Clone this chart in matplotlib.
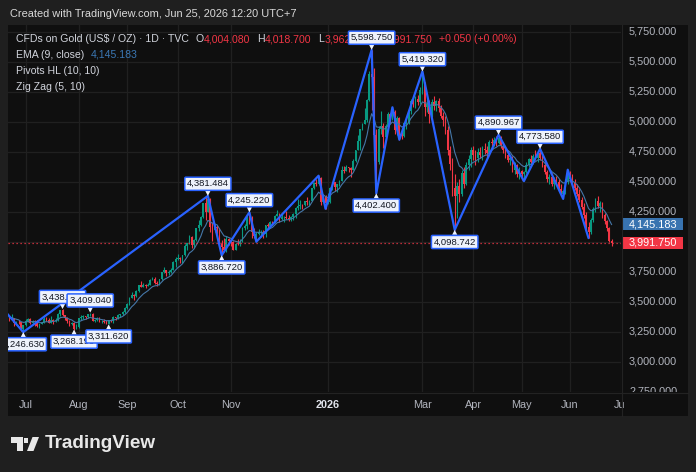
import numpy as np
import pandas as pd
import matplotlib
matplotlib.use('Agg')
import matplotlib.pyplot as plt
from matplotlib.patches import Rectangle, Polygon

# ---------------- data ----------------
start_date = '2025-06-20'
end_date = '2026-06-25'
holidays = ['2025-12-25', '2026-01-01', '2026-04-03']
first_open = 3369.0

closes = [3368, 3368, 3323, 3333, 3328, 3274, 3303,
          3338, 3357, 3326, 3337, 3336, 3301, 3313, 3325, 3355, 3344, 3324, 3347, 3339, 3350,
          3397, 3432, 3387, 3368, 3337, 3314, 3326, 3275, 3290,
          3363, 3373, 3381, 3370, 3397, 3398, 3342, 3348, 3356, 3335, 3336, 3332, 3316, 3348,
          3339, 3371, 3365, 3393, 3397, 3416, 3448,
          3477, 3533, 3559, 3545, 3587, 3636, 3626, 3640, 3634, 3643, 3680, 3690, 3659, 3644,
          3685, 3746, 3763, 3736, 3749, 3760, 3833, 3858,
          3865, 3856, 3886, 3960, 3985, 4040, 3975, 4018, 4110, 4142, 4208, 4326, 4251, 4356,
          4125, 4095, 4126, 4112, 3982, 3953, 3930, 4025, 4002,
          4000, 3932, 3980, 3977, 4000, 4116, 4128, 4195, 4171, 4080, 4045, 4067, 4077, 4078,
          4065, 4136, 4131, 4164, 4157, 4218,
          4232, 4186, 4204, 4208, 4197, 4188, 4208, 4228, 4280, 4300, 4305, 4303, 4338, 4332,
          4340, 4445, 4490, 4480, 4533, 4331, 4370, 4319,
          4330, 4448, 4495, 4456, 4477, 4509, 4597, 4588, 4625, 4615, 4596, 4670, 4765, 4835,
          4936, 4983, 5010, 5180, 5400, 5370, 4890,
          4660, 4940, 4960, 4870, 4960, 5060, 5025, 5080, 4930, 5030, 4900, 4880, 4985, 4990,
          5090, 5170, 5150, 5190, 5160, 5260,
          5310, 5120, 5150, 5060, 5160, 5130, 5170, 5110, 5050, 5010, 4930, 4760, 4650, 4450,
          4380, 4460, 4400, 4570, 4480, 4640, 4690, 4760,
          4720, 4700, 4750, 4720, 4770, 4760, 4740, 4830, 4820, 4850, 4820, 4860, 4800, 4760,
          4720, 4680, 4700, 4600, 4640, 4560, 4590,
          4560, 4580, 4640, 4690, 4660, 4710, 4700, 4740, 4700, 4640, 4580, 4520, 4540, 4480,
          4510, 4500, 4440, 4400, 4420, 4500, 4560,
          4520, 4490, 4450, 4400, 4350, 4290, 4220, 4120, 4080, 4180, 4270, 4340, 4300, 4320,
          4220, 4170, 4110, 4004.08, 3991.75]

highs = [3373, 3398, 3368, 3340, 3350, 3329, 3306,
         3358, 3365, 3366, 3345, 3345, 3347, 3318, 3330, 3369, 3375, 3366, 3377, 3352, 3361,
         3402, 3433, 3438.87, 3393, 3373, 3345, 3334, 3334, 3315,
         3363, 3385, 3391, 3384, 3400, 3409.04, 3404, 3358, 3375, 3374, 3345, 3358, 3345, 3350,
         3352, 3378, 3376, 3394, 3398, 3423, 3454,
         3489, 3540, 3578, 3564, 3600, 3641, 3674, 3657, 3646, 3655, 3685, 3703, 3707, 3669,
         3687, 3749, 3791, 3768, 3762, 3782, 3835, 3872,
         3895, 3876, 3890, 3977, 3991, 4059, 4045, 4022, 4117, 4179, 4218, 4326, 4379, 4381.484,
         4363, 4161, 4147, 4142, 4110, 4010, 4030, 4045, 4034,
         4030, 4002, 3990, 4020, 4020, 4124, 4148, 4210, 4245.22, 4210, 4110, 4082, 4109, 4100,
         4098, 4138, 4156, 4170, 4175, 4220,
         4264, 4240, 4240, 4218, 4259, 4220, 4218, 4238, 4285, 4353, 4350, 4310, 4342, 4374,
         4350, 4448, 4497, 4526, 4550, 4540, 4390, 4385,
         4402, 4452, 4500, 4500, 4480, 4516, 4630, 4634, 4643, 4626, 4625, 4690, 4766, 4888,
         4940, 4990, 5110, 5190, 5420, 5598.75, 5450,
         4940, 4960, 5090, 4990, 4980, 5080, 5070, 5120, 5100, 5050, 5040, 4920, 5000, 5020,
         5100, 5190, 5200, 5210, 5220, 5290,
         5419.32, 5330, 5200, 5180, 5190, 5210, 5180, 5200, 5140, 5080, 5050, 4960, 4800, 4700,
         4560, 4500, 4520, 4600, 4620, 4660, 4720, 4790,
         4800, 4760, 4780, 4790, 4800, 4820, 4800, 4850, 4860, 4870, 4880, 4890.967, 4880, 4830,
         4790, 4760, 4720, 4710, 4660, 4650, 4620,
         4600, 4590, 4660, 4700, 4720, 4730, 4760, 4750, 4773.58, 4720, 4660, 4600, 4560, 4570,
         4540, 4550, 4520, 4480, 4430, 4520, 4600,
         4590, 4560, 4520, 4480, 4440, 4370, 4320, 4250, 4160, 4200, 4290, 4360, 4380, 4340,
         4330, 4240, 4180, 4120, 4018.7]

lows = [3340, 3347, 3295, 3312, 3317, 3255, 3246.63,
        3296, 3329, 3311, 3323, 3297, 3287, 3283, 3310, 3322, 3341, 3320, 3319, 3310, 3332,
        3340, 3383, 3381, 3351, 3325, 3301, 3308, 3268.19, 3282,
        3281, 3346, 3354, 3356, 3367, 3378, 3342, 3331, 3343, 3330, 3324, 3323, 3315, 3311.62,
        3330, 3321, 3351, 3352, 3371, 3386, 3408,
        3436, 3475, 3528, 3511, 3543, 3578, 3621, 3623, 3613, 3633, 3635, 3677, 3645, 3627,
        3640, 3683, 3735, 3717, 3722, 3741, 3760, 3792,
        3850, 3820, 3823, 3884, 3930, 3980, 3945, 3947, 4006, 4090, 4134, 4199, 4183, 4250,
        4082, 4004, 4078, 4060, 3970, 3886.72, 3918, 3917, 3970,
        3960, 3929, 3930, 3970, 3960, 3995, 4099, 4105, 4150, 4032, 4030, 4000, 4058, 4040,
        4032, 4040, 4110, 4125, 4141, 4153,
        4218, 4164, 4180, 4162, 4190, 4170, 4170, 4180, 4197, 4266, 4270, 4271, 4298, 4308,
        4309, 4338, 4436, 4464, 4475, 4302, 4320, 4274,
        4310, 4325, 4430, 4422, 4410, 4467, 4510, 4570, 4585, 4580, 4537, 4600, 4660, 4760,
        4760, 4930, 4990, 5000, 5170, 5100, 4680,
        4402.4, 4650, 4900, 4780, 4850, 4940, 4990, 5010, 4900, 4890, 4850, 4855, 4870, 4940,
        4980, 5060, 5120, 5110, 5140, 5150,
        5230, 5050, 5080, 4990, 5040, 5100, 5090, 5080, 5030, 4960, 4900, 4720, 4600, 4380,
        4098.742, 4200, 4330, 4380, 4450, 4470, 4600, 4620,
        4680, 4640, 4660, 4700, 4680, 4730, 4700, 4730, 4790, 4800, 4800, 4810, 4780, 4740,
        4700, 4660, 4640, 4580, 4560, 4540, 4520,
        4510, 4505, 4570, 4620, 4640, 4650, 4680, 4660, 4680, 4620, 4560, 4500, 4480, 4460,
        4440, 4470, 4420, 4380, 4357, 4400, 4480,
        4500, 4470, 4430, 4380, 4330, 4270, 4200, 4100, 4030, 4060, 4160, 4250, 4280, 4250,
        4200, 4150, 4090, 4000, 3962.42]

# zig zag pivots (bar index, price)
zz_idx = [-1, 6, 86, 92, 104, 107, 134, 137, 157, 159, 166, 169, 179, 193, 212, 223, 230, 240, 242, 251]
zz_price = [3400, 3246.63, 4381.484, 3886.72, 4245.22, 4000, 4550, 4274, 5598.75, 4402.4,
            5120, 4850, 5419.32, 4098.742, 4890.967, 4505, 4773.58, 4357, 4600, 4030]

# pivot HL labels (bar index, price, side)
piv_idx = [6, 23, 28, 35, 43, 86, 92, 104, 157, 159, 179, 193, 212, 230]
piv_price = [3246.63, 3438.87, 3268.19, 3409.04, 3311.62, 4381.484, 3886.72, 4245.22,
             5598.75, 4402.4, 5419.32, 4098.742, 4890.967, 4773.58]
piv_side = ['L', 'H', 'L', 'H', 'L', 'H', 'L', 'H', 'H', 'L', 'H', 'L', 'H', 'H']

price_ticks = [5750, 5500, 5250, 5000, 4750, 4500, 4250, 4000, 3750, 3500, 3250, 3000, 2750]
tick_months = ['2025-07', '2025-08', '2025-09', '2025-10', '2025-11', '2026-01',
               '2026-03', '2026-04', '2026-05', '2026-06', '2026-07']
tick_labels = ['Jul', 'Aug', 'Sep', 'Oct', 'Nov', '2026', 'Mar', 'Apr', 'May', 'Jun', 'Jul']

last_price = 3991.75
ema_value = 4145.183

# ---------------- style ----------------
plt.rcParams['font.family'] = ['Liberation Sans', 'DejaVu Sans']
W, H = 696, 472
BG = '#1f1f1f'
PANEL = '#0f0f0f'
GRID = '#202020'
TXT = '#d1d4dc'
AX_TXT = '#b2b5be'
UP = '#089981'
DN = '#f23645'
ZZ = '#2962ff'
EMA_C = '#3b78b5'
FS = 7.6

fig = plt.figure(figsize=(W / 100, H / 100), dpi=100)
fig.patch.set_facecolor(BG)


def fbox(x0, y0, x1, y1):
    return [x0 / W, 1 - y1 / H, (x1 - x0) / W, (y1 - y0) / H]


def bar_at(px):
    return (px - 9.46) / 2.307


fig.add_artist(Rectangle((8 / W, 1 - 416 / H), 680 / W, 391 / H, transform=fig.transFigure,
                         fc=PANEL, ec='none', zorder=0))

# calendar
all_days = pd.bdate_range(start_date, '2026-07-03')
all_days = all_days[~all_days.isin(pd.to_datetime(holidays))]
n = len(closes)
month_key = all_days.strftime('%Y-%m')
tick_pos = [int(np.argmax(month_key == m)) for m in tick_months]

closes = np.array(closes, float)
highs = np.array(highs, float)
lows = np.array(lows, float)
opens = np.r_[first_open, closes[:-1]]
highs = np.maximum(highs, np.maximum(opens, closes))
lows = np.minimum(lows, np.minimum(opens, closes))
idx = np.arange(n)

# main pane
ylo, yhi = 2747.5, 5805.8
ax = fig.add_axes(fbox(8, 25, 621, 392))
ax.set_xlim(bar_at(8), bar_at(621))
ax.set_ylim(ylo, yhi)
ax.axis('off')

for p in price_ticks:
    ax.axhline(p, color=GRID, lw=0.9, zorder=1)
for t in tick_pos:
    ax.axvline(t, color=GRID, lw=0.9, zorder=1)

up = closes >= opens
cols = np.where(up, UP, DN)
ax.vlines(idx, lows, highs, colors=cols, lw=0.8, zorder=3)
body = np.maximum(np.abs(closes - opens), 4)
ax.bar(idx, body, bottom=np.minimum(opens, closes), width=0.74, color=cols, lw=0, zorder=3)

ema = pd.Series(closes).ewm(span=9, adjust=False).mean().values
ax.plot(idx, ema, color='#4577a8', lw=0.8, zorder=4)

ax.plot(zz_idx, zz_price, color=ZZ, lw=1.6, zorder=5, solid_capstyle='round')

ax.axhline(last_price, color=DN, lw=0.9, ls=(0, (1, 2.2)), zorder=4)

# header legend
def chain(prev, s, color, gap=0):
    return ax.annotate(s, xy=(1, 0), xycoords=prev, xytext=(gap, 0), textcoords='offset points',
                       va='bottom', ha='left', color=color, fontsize=FS, annotation_clip=False,
                       zorder=6)

t0 = ax.text(16 / W, 1 - 39 / H, 'CFDs on Gold (US$ / OZ) \u00b7 1D \u00b7 TVC', transform=fig.transFigure,
             va='center', ha='left', color=TXT, fontsize=FS, zorder=6)
segs = [('O', TXT, 5), ('4,004.080', DN, 0), ('H', TXT, 5), ('4,018.700', DN, 0),
        ('L', TXT, 5), ('3,962.420', DN, 0), ('C', TXT, 5), ('3,991.750', DN, 0),
        ('+0.050 (+0.00%)', DN, 5)]
prev = t0
for s, c, g in segs:
    prev = chain(prev, s, c, g)

t1 = ax.text(16 / W, 1 - 54.5 / H, 'EMA (9, close)', transform=fig.transFigure, va='center',
             ha='left', color=TXT, fontsize=FS, zorder=6)
chain(t1, f'{ema_value:,.3f}', EMA_C, 5)
ax.text(16 / W, 1 - 70.5 / H, 'Pivots HL (10, 10)', transform=fig.transFigure, va='center',
        ha='left', color=TXT, fontsize=FS, zorder=6)
ax.text(16 / W, 1 - 86.5 / H, 'Zig Zag (5, 10)', transform=fig.transFigure, va='center',
        ha='left', color=TXT, fontsize=FS, zorder=6)

# pivot labels
for k, (i, p, s) in enumerate(zip(piv_idx, piv_price, piv_side)):
    off = 5.5 if s == 'H' else -5.5
    ax.annotate(f'{p:,.3f}', xy=(i, p), xytext=(0, off), textcoords='offset points',
                ha='center', va='bottom' if s == 'H' else 'top', fontsize=6.8, color='#131722',
                bbox=dict(boxstyle='round,pad=0.22,rounding_size=0.12', fc='#eef2fb', ec=ZZ, lw=1.1),
                arrowprops=dict(arrowstyle='wedge,tail_width=0.55,shrink_factor=0.5', fc='#eef2fb',
                                ec='none', shrinkA=0, shrinkB=0),
                zorder=10 + k, annotation_clip=False, clip_on=True)

# price scale
pax = fig.add_axes(fbox(621, 25, 688, 392))
pax.set_xlim(0, 1)
pax.set_ylim(ylo, yhi)
pax.axis('off')
for p in price_ticks:
    pax.text(0.12, p, f'{p:,.3f}', va='center', ha='left', color=AX_TXT, fontsize=7.8, clip_on=True)

for p, fc in [(ema_value, '#3873b0'), (last_price, DN)]:
    pax.add_patch(Rectangle((0.025, p - 49), 0.895, 98, fc=fc, ec='none', zorder=5))
    pax.text(0.12, p, f'{p:,.3f}', va='center', ha='left', color='white', fontsize=7.8, zorder=6)

# time scale
tax = fig.add_axes(fbox(8, 392, 625, 416))
tax.set_xlim(bar_at(8), bar_at(625))
tax.set_ylim(0, 1)
tax.axis('off')
for t, lab in zip(tick_pos, tick_labels):
    bold = lab.isdigit()
    tax.text(t, 0.46, lab, ha='center', va='center', fontsize=7.8,
             color='#e0e3eb' if bold else AX_TXT, fontweight='bold' if bold else 'normal', clip_on=True)

# separators
fig.add_artist(plt.Line2D([8 / W, 688 / W], [1 - 392.5 / H] * 2, color='#232323', lw=0.8))
fig.add_artist(plt.Line2D([621.5 / W] * 2, [1 - 25 / H, 1 - 416 / H], color='#232323', lw=0.8))

# captions
fig.text(9.5 / W, 1 - 14 / H, 'Created with TradingView.com, Jun 25, 2026 12:20 UTC+7', color='#d9d9d9',
         fontsize=7.9, va='center', ha='left')

LOGO = '#e8e8e8'
tr = fig.transFigure
def P(x, y):
    return (x / W, 1 - y / H)
fig.add_artist(Polygon([P(11, 437), P(22.5, 437), P(22.5, 451), P(17, 451), P(17, 442.5), P(11, 442.5)],
                       closed=True, fc=LOGO, ec='none', transform=tr))
fig.add_artist(Polygon([P(27, 451), P(32.5, 437), P(39, 437), P(33.5, 451)], closed=True, fc=LOGO,
                       ec='none', transform=tr))
fig.add_artist(Rectangle(P(23.5, 442.5), 4.8 / W, 4.8 / H, fc=LOGO, ec='none', transform=tr))
fig.text(44.5 / W, 1 - 444 / H, 'TradingView', color=LOGO, fontsize=13.6, fontweight='bold',
         va='center', ha='left')

fig.savefig('out.png', dpi=100, facecolor=BG)
